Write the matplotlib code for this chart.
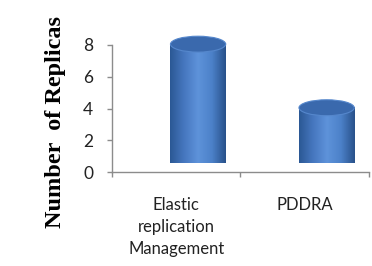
import matplotlib
matplotlib.use("Agg")
import matplotlib.pyplot as plt
import numpy as np
from matplotlib.path import Path
from matplotlib.patches import PathPatch, Ellipse
from matplotlib.colors import LinearSegmentedColormap

categories = ["Elastic\nreplication\nManagement", "PDDRA"]
replicas = [7, 3]
y_ticks = [0, 2, 4, 6, 8]

# pseudo-3d look of the excel cylinders
depth_dx = 0.17
depth_dy = 1.05
cyl_width = 0.43
ell_height = 1.0

body_cmap = LinearSegmentedColormap.from_list(
    "cyl", ["#2b5894", "#4677bf", "#5e93da", "#4c81c9", "#28518a"])


def draw_cylinder(ax, xc, y0, y1):
    a = cyl_width / 2
    b = ell_height / 2
    t = np.linspace(np.pi, 2 * np.pi, 60)
    arc = np.column_stack([xc + a * np.cos(t), y0 + b * np.sin(t)])
    pts = np.vstack([[xc - a, y1], arc, [xc + a, y1], [xc - a, y1]])
    path = Path(pts)
    body = PathPatch(path, facecolor="none", edgecolor="none", clip_on=False)
    ax.add_patch(body)
    grad = np.linspace(0, 1, 256).reshape(1, -1)
    im = ax.imshow(grad, cmap=body_cmap, aspect="auto",
                   extent=(xc - a, xc + a, y0 - b, y1), zorder=2, clip_on=False)
    im.set_clip_path(body)
    top = Ellipse((xc, y1), 2 * a, 2 * b, facecolor="#3a69ad",
                  edgecolor="#5587cc", linewidth=0.8, zorder=3, clip_on=False)
    ax.add_patch(top)


fig = plt.figure(figsize=(3.72, 2.66), dpi=100)
ax = fig.add_axes([0.301, 0.353, 0.691, 0.478])

for i, v in enumerate(replicas):
    xc = i + 0.5 + depth_dx
    draw_cylinder(ax, xc, depth_dy, v + depth_dy)

ax.set_xlim(0, len(categories))
ax.set_ylim(0, 8)

for s in ["top", "right"]:
    ax.spines[s].set_visible(False)
for s in ["left", "bottom"]:
    ax.spines[s].set_color("#8c8c8c")
    ax.spines[s].set_linewidth(1.0)

ax.set_yticks(y_ticks)
ax.set_yticklabels([str(t) for t in y_ticks], fontfamily="Lato", fontsize=12.5,
                   color="#222222")
ax.tick_params(axis="y", length=3.5, width=1.0, color="#8c8c8c", pad=10)

ax.set_xticks(range(len(categories) + 1))
ax.set_xticklabels([])
ax.tick_params(axis="x", which="major", length=3.5, width=1.0, color="#8c8c8c")
ax.set_xticks([i + 0.5 for i in range(len(categories))], minor=True)
ax.set_xticklabels(categories, minor=True, fontfamily="Lato", fontsize=12,
                   color="#222222", linespacing=1.45, va="top")
ax.tick_params(axis="x", which="minor", length=0, pad=18)

fig.text(0.15, 0.54, "Number  of Replicas", rotation=90, ha="center",
         va="center", fontfamily="Liberation Serif", fontweight="bold",
         fontsize=17.5)

fig.savefig("out.png", dpi=100)
